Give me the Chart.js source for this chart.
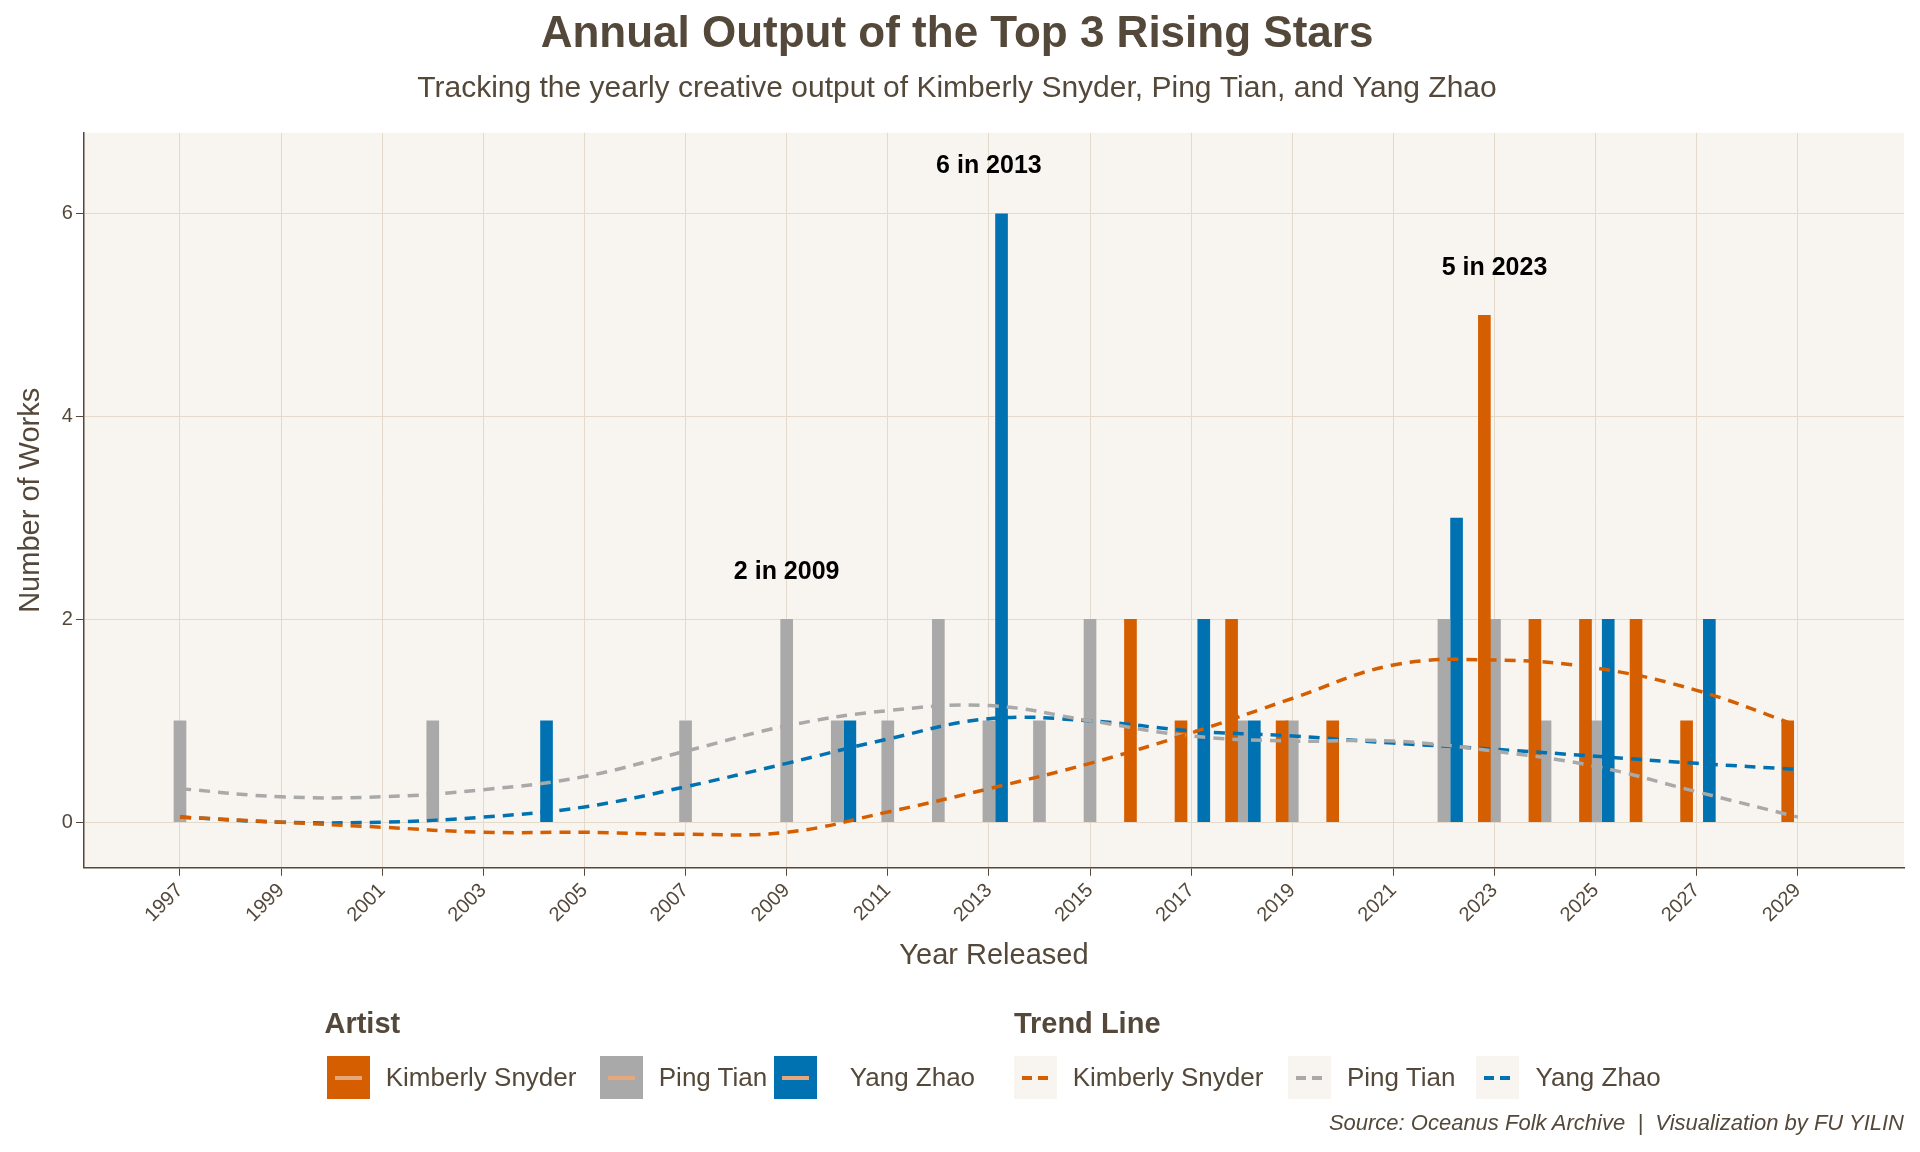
<!DOCTYPE html>
<html><head><meta charset="utf-8">
<script src="https://cdn.jsdelivr.net/npm/chart.js@4/dist/chart.umd.min.js"></script>
<style>
body{margin:0;background:#fff;font-family:"Liberation Sans",Arial,sans-serif;}
#wrap{position:relative;width:1920px;height:1152px;}
canvas{position:absolute;left:0;top:0;}
.lg{position:absolute;color:#54483A;font-size:26px;}
.lt{font-weight:bold;font-size:29px;}
.key{position:absolute;width:43px;height:43px;}
.key i{position:absolute;left:8px;right:8px;top:20px;height:4px;}
#src{position:absolute;right:16px;top:1110px;font-style:italic;font-size:22px;color:#54483A;}
</style></head><body>
<div id="wrap"><canvas id="c" width="1920" height="1152"></canvas>
<div id="legend"></div>
<div id="src">Source: Oceanus Folk Archive &nbsp;|&nbsp; Visualization by FU YILIN</div>
</div>
<script>
// -------- DATA --------
const artists = ['Kimberly Snyder', 'Ping Tian', 'Yang Zhao'];
const colors = ['#D55E00', '#A9A9A9', '#0072B2'];
const dodge = [-0.2, 0, 0.25];

const kimYears = [2016, 2017, 2018, 2019, 2020, 2023, 2024, 2025, 2026, 2027, 2029];
const kimWorks = [2, 1, 2, 1, 1, 5, 2, 2, 2, 1, 1];
const pingYears = [1997, 2002, 2007, 2009, 2010, 2011, 2012, 2013, 2014, 2015, 2018, 2019, 2022, 2023, 2024, 2025];
const pingWorks = [1, 1, 1, 2, 1, 1, 2, 1, 1, 2, 1, 1, 2, 2, 1, 1];
const yangYears = [2004, 2010, 2013, 2017, 2018, 2022, 2025, 2027];
const yangWorks = [1, 1, 6, 2, 1, 3, 2, 2];

const trendYears = [1997, 1999, 2001, 2003, 2005, 2007, 2009, 2011, 2013, 2015, 2017, 2019, 2021, 2023, 2025, 2027, 2029];
const kimTrend = [0.05, 0, -0.05, -0.1, -0.1, -0.12, -0.1, 0.1, 0.33, 0.58, 0.88, 1.22, 1.55, 1.6, 1.52, 1.3, 0.95];
const pingTrend = [0.33, 0.25, 0.25, 0.32, 0.45, 0.7, 0.95, 1.1, 1.15, 1.0, 0.85, 0.8, 0.8, 0.7, 0.55, 0.3, 0.05];
const yangTrend = [0.05, 0, 0, 0.05, 0.15, 0.35, 0.58, 0.82, 1.02, 1.0, 0.9, 0.85, 0.78, 0.72, 0.65, 0.58, 0.52];

const notes = [{year: 2009, value: 2, text: '2 in 2009'}, {year: 2013, value: 6, text: '6 in 2013'}, {year: 2023, value: 5, text: '5 in 2023'}];

const textCol = '#54483A';
const gridCol = '#E3DACB';
const FONT = '"Liberation Sans", Arial, sans-serif';

// -------- DATASETS --------
const barSets = [[kimYears, kimWorks], [pingYears, pingWorks], [yangYears, yangWorks]].map(([yrs, vals], i) => ({
  type: 'bar',
  label: artists[i],
  data: yrs.map((y, j) => ({x: y + dodge[i], y: vals[j]})),
  backgroundColor: colors[i],
  barThickness: 12,
  grouped: false,
  order: 2
}));
const lineSets = [kimTrend, pingTrend, yangTrend].map((t, i) => ({
  type: 'line',
  label: 'Trend ' + artists[i],
  data: trendYears.map((y, j) => ({x: y, y: t[j]})),
  borderColor: colors[i],
  borderWidth: 3.5,
  borderDash: [11, 8],
  pointRadius: 0,
  tension: 0.4,
  fill: false,
  order: 1
}));

const panelBg = {
  id: 'panelBg',
  beforeDraw(chart) {
    const {ctx, chartArea: a} = chart;
    ctx.save();
    ctx.fillStyle = '#F8F5F0';
    ctx.fillRect(a.left, a.top, a.right - a.left, a.bottom - a.top);
    ctx.restore();
  },
  afterDatasetsDraw(chart) {
    const {ctx, scales} = chart;
    ctx.save();
    ctx.fillStyle = '#000';
    ctx.font = 'bold 25px ' + FONT;
    ctx.textAlign = 'center';
    notes.forEach(n => {
      ctx.fillText(n.text, scales.x.getPixelForValue(n.year), scales.y.getPixelForValue(n.value + 0.4));
    });
    ctx.restore();
  }
};

Chart.defaults.font.family = FONT;

new Chart(document.getElementById('c'), {
  data: {datasets: [...barSets, ...lineSets]},
  plugins: [panelBg],
  options: {
    responsive: false,
    animation: false,
    layout: {padding: {left: 10, right: 16, top: 0, bottom: 175}},
    plugins: {
      legend: {display: false},
      tooltip: {enabled: false},
      title: {display: true, text: 'Annual Output of the Top 3 Rising Stars', color: textCol,
        font: {size: 44, weight: 'bold'}, padding: {top: 8, bottom: 10}},
      subtitle: {display: true, text: 'Tracking the yearly creative output of Kimberly Snyder, Ping Tian, and Yang Zhao',
        color: textCol, font: {size: 30}, padding: {bottom: 26}}
    },
    scales: {
      x: {
        type: 'linear', min: 1995.1, max: 2031.1, offset: false,
        afterBuildTicks: ax => { ax.ticks = trendYears.map(v => ({value: v})); },
        ticks: {color: textCol, font: {size: 20}, maxRotation: 45, minRotation: 45, callback: v => String(v)},
        grid: {color: gridCol, tickColor: textCol, tickLength: 8, offset: false},
        border: {color: textCol, width: 1.5},
        title: {display: true, text: 'Year Released', color: textCol, font: {size: 29}, padding: {top: 8}}
      },
      y: {
        min: -0.45, max: 6.8,
        afterBuildTicks: ax => { ax.ticks = [0, 2, 4, 6].map(v => ({value: v})); },
        ticks: {color: textCol, font: {size: 20}},
        grid: {color: gridCol, tickColor: textCol, tickLength: 8},
        border: {color: textCol, width: 1.5},
        title: {display: true, text: 'Number of Works', color: textCol, font: {size: 29}, padding: {bottom: 10}}
      }
    }
  }
});

// -------- LEGEND --------
const S = 1.2245;
const lg = document.getElementById('legend');
let html = `<div class="lg lt" style="left:${265*S}px;top:${822*S}px">Artist</div>
<div class="lg lt" style="left:${828*S}px;top:${822*S}px">Trend Line</div>`;
const artistX = [[267, 315], [490, 538], [632, 694]];
const trendX = [[828, 876], [1052, 1100], [1205, 1254]];
artists.forEach((a, i) => {
  html += `<div class="key" style="left:${artistX[i][0]*S}px;top:${862*S}px;background:${colors[i]}"><i style="background:#E6A77A"></i></div>
  <div class="lg" style="left:${artistX[i][1]*S}px;top:${867*S}px">${a}</div>
  <div class="key" style="left:${trendX[i][0]*S}px;top:${862*S}px;background:#F8F5F0"><i style="background:repeating-linear-gradient(90deg,${colors[i]} 0 10px,transparent 10px 16px)"></i></div>
  <div class="lg" style="left:${trendX[i][1]*S}px;top:${867*S}px">${a}</div>`;
});
lg.innerHTML = html;
</script>
</body></html>
